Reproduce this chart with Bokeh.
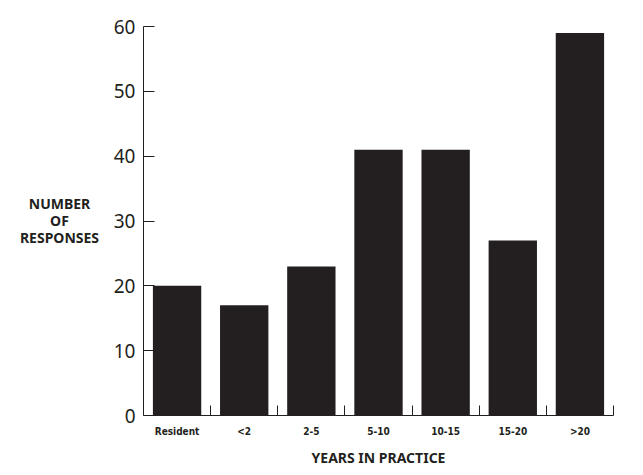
from bokeh.plotting import figure
from bokeh.models import FixedTicker, Range1d
from bokeh.layouts import row, column
from bokeh.embed import file_html
from bokeh.resources import INLINE

categories = ["Resident", "<2", "2-5", "5-10", "10-15", "15-20", ">20"]
responses = [20, 17, 23, 41, 41, 27, 59]
y_ticks = [0, 10, 20, 30, 40, 50, 60]
y_title_lines = ["NUMBER", "OF", "RESPONSES"]
x_title = "YEARS IN PRACTICE"

INK = "#231f20"
centers = [i + 0.5 for i in range(len(categories))]
bounds = [i + 1 for i in range(len(categories))]

W, LW, H, BH = 627, 100, 441, 26


def blank(width, height):
    f = figure(width=width, height=height, output_backend="svg", toolbar_location=None,
               x_range=Range1d(0, width), y_range=Range1d(0, height),
               x_axis_location=None, y_axis_location=None)
    f.min_border = 0
    f.grid.visible = False
    f.outline_line_color = None
    f.border_fill_color = "white"
    f.background_fill_color = "white"
    return f


# left panel: horizontal, centred y-axis title
t = blank(LW, H)
t.text(x=[59, 59, 59], y=[H - 201, H - 220, H - 239], text=y_title_lines,
       text_align="center", text_baseline="middle", text_font={"value": "Noto Sans"},
       text_font_style="bold", text_font_size="14px", text_color=INK)

# main chart
p = figure(width=W - LW, height=H, output_backend="svg", toolbar_location=None,
           x_range=Range1d(0, len(categories)), y_range=Range1d(0, 60))
p.min_border_left = 143 - LW
p.min_border_right = 14
p.min_border_top = 26
p.min_border_bottom = H - 415
p.outline_line_color = None
p.grid.visible = False
p.background_fill_color = "white"
p.border_fill_color = "white"

p.vbar(x=centers, top=responses, width=0.72, bottom=0, fill_color=INK, line_color=None)

xa = p.xaxis[0]
xa.ticker = FixedTicker(ticks=centers, minor_ticks=bounds)
xa.major_label_overrides = {c: lab for c, lab in zip(centers, categories)}
xa.major_tick_in = 0
xa.major_tick_out = 0
xa.minor_tick_in = 10
xa.minor_tick_out = 0
xa.minor_tick_line_color = INK
xa.axis_line_color = INK
xa.major_label_text_font = "'DejaVu Sans Condensed', 'Liberation Sans Narrow', sans-serif"
xa.major_label_text_font_style = "bold"
xa.major_label_text_font_size = "10px"
xa.major_label_text_color = INK
xa.major_label_standoff = 10

ya = p.yaxis[0]
ya.ticker = FixedTicker(ticks=y_ticks, minor_ticks=[])
ya.major_tick_in = 11
ya.major_tick_out = 0
ya.major_tick_line_color = INK
ya.minor_tick_line_color = None
ya.axis_line_color = INK
ya.major_label_text_font = "Noto Sans"
ya.major_label_text_font_size = "19px"
ya.major_label_text_color = INK
ya.major_label_standoff = 8

# bottom panel: x-axis title
b = blank(W, BH)
b.text(x=[(143 + 613) / 2], y=[BH - (457 - H)], text=[x_title],
       text_align="center", text_baseline="middle", text_font={"value": "Noto Sans"},
       text_font_style="bold", text_font_size="14px", text_color=INK)

layout = column(row(t, p), b)
open("out.html", "w").write(file_html(layout, INLINE))
